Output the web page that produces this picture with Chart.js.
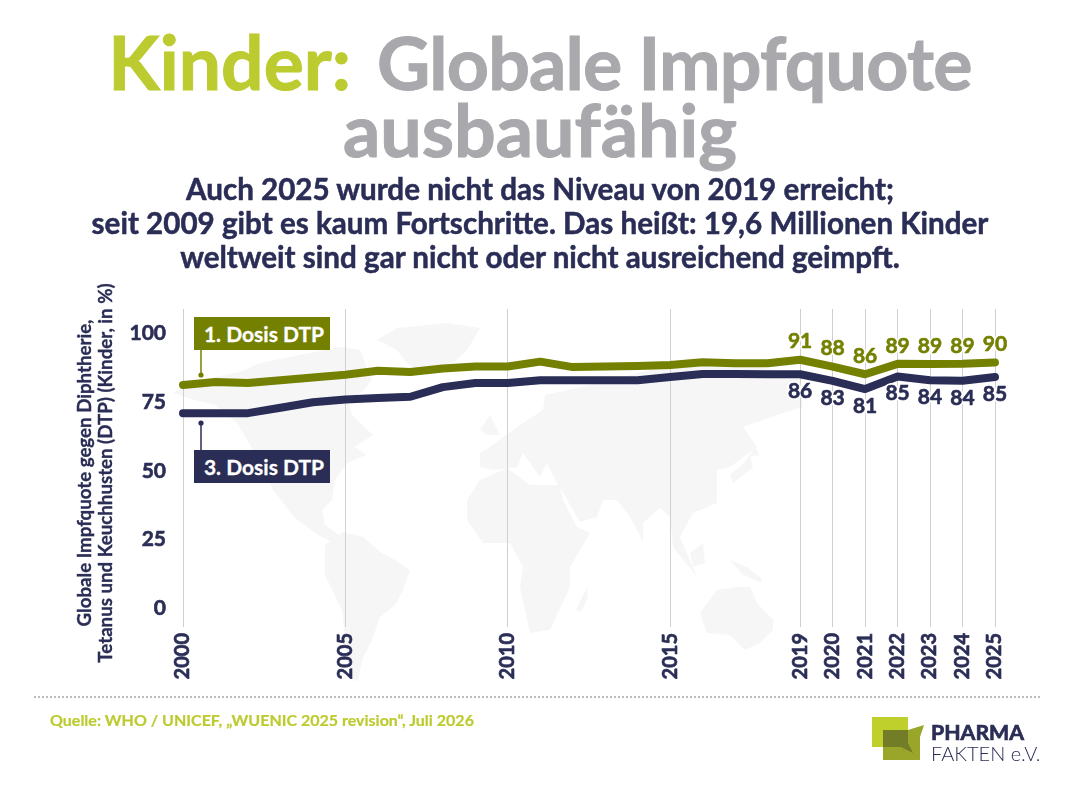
<!DOCTYPE html>
<html lang="de">
<head>
    <meta charset="UTF-8">
    <title>Kinder: Globale Impfquote ausbaufähig</title>
    <script src="https://cdn.jsdelivr.net/npm/chart.js"></script>
    <style>
        body {
            margin: 0;
            background: #fff;
            font-family: Lato, sans-serif;
            font-weight: 700;
        }
        .page {
            position: relative;
            width: 1080px;
            height: 793px;
            overflow: hidden;
        }
        .page > * {
            position: absolute;
        }
        .map {
            left: 0;
            top: 0;
        }
        canvas {
            left: 0;
            top: 0;
        }
        .title {
            left: 0;
            width: 1080px;
            top: 28px;
            text-align: center;
            font-size: 73.5px;
            line-height: 67px;
            color: #a9a9ad;
            -webkit-text-stroke: 1px #a9a9ad;
        }
        .title .tight {
            letter-spacing: -0.8px;
        }
        .title .lead {
            font-size: 75px;
            margin-right: 8px;
            color: #bccb2f;
            -webkit-text-stroke: 1px #bccb2f;
        }
        .subtitle {
            left: 0;
            width: 1080px;
            top: 172px;
            text-align: center;
            font-size: 29.6px;
            line-height: 34px;
            color: #2a2d55;
            -webkit-text-stroke: 0.5px #2a2d55;
        }
        .tag {
            left: 194px;
            width: 132px;
            padding-left: 4px;
            height: 33px;
            line-height: 33px;
            text-align: center;
            color: #fff;
            font-size: 21px;
            -webkit-text-stroke: 0.3px #fff;
        }
        .axis-title {
            left: 94.5px;
            top: 473px;
            width: 400px;
            margin-left: -200px;
            transform: translateY(-50%) rotate(-90deg);
            text-align: center;
            white-space: nowrap;
            font-size: 18.7px;
            line-height: 21px;
            color: #2a2d55;
            -webkit-text-stroke: 0.3px #2a2d55;
        }
        .source {
            left: 50px;
            top: 710px;
            font-size: 16px;
            color: #bccb2f;
            -webkit-text-stroke: 0.2px #bccb2f;
        }
        .rule {
            left: 34px;
            top: 696px;
            width: 1006px;
            border-top: 2px dotted #bbb;
        }
        .brand1 {
            left: 931px;
            top: 719px;
            font-size: 21.3px;
            color: #2a2d55;
            -webkit-text-stroke: 0.7px #2a2d55;
        }
        .brand2 {
            left: 931px;
            top: 741px;
            font-size: 20px;
            font-weight: 300;
            color: #2a2d55;
        }
    </style>
</head>
<body>
<div class="page">
    <!-- world map behind the chart -->
    <svg class="map" width="1080" height="793" fill="#f6f6f6">
        <polygon points="377,340 397,328 447,323 480,328 467,350 453,363 417,370 407,363 397,350"/>
        <polygon points="173,393 200,380 240,372 260,363 300,355 340,347 360,350 372,380 362,392 348,400 352,415 373,435 355,447 366,455 347,463 335,480 332,500 322,510 325,525 343,538 338,545 318,535 295,518 273,490 262,465 237,423 215,405 195,400"/>
        <polygon points="325,545 343,532 363,537 380,552 395,560 410,570 403,590 395,605 380,617 372,640 362,660 358,682 350,675 345,640 342,610 325,575"/>
        <polygon points="467,500 480,480 507,468 530,485 560,485 563,500 577,527 590,533 570,567 570,587 550,630 530,633 520,587 523,567 510,543 483,543 467,520"/>
        <polygon points="587,587 576,610 581,612 588,597"/>
        <polygon points="480,453 490,447 517,427 543,410 545,395 590,385 650,370 690,358 750,365 800,375 803,407 783,413 743,427 757,447 730,467 717,470 717,503 693,513 680,537 697,577 673,547 670,517 660,508 643,523 643,542 630,517 617,500 603,500 597,517 580,522 570,505 563,492 557,483 547,463 540,477 523,453 517,467 493,470 480,467"/>
        <polygon points="480,430 490,415 500,435 487,435"/>
        <polygon points="733,483 753,467 750,457 760,455 755,447 745,462 730,475"/>
        <polygon points="690,553 703,543 705,563 693,567"/>
        <polygon points="730,560 747,567 760,577 762,583 743,575"/>
        <polygon points="700,613 717,590 737,587 750,587 757,603 773,620 773,630 760,643 745,650 730,635 707,633"/>
    </svg>

    <canvas id="chart" width="1080" height="793"></canvas>

    <div class="title"><span class="lead">Kinder:</span> <span class="tight">Globale Impfquote</span><br>ausbaufähig</div>
    <div class="subtitle">Auch 2025 wurde nicht das Niveau von 2019 erreicht;<br>seit 2009 gibt es kaum Fortschritte. Das heißt: 19,6 Millionen Kinder<br>weltweit sind gar nicht oder nicht ausreichend geimpft.</div>

    <div class="axis-title">Globale Impfquote gegen Diphtherie,<br>Tetanus und Keuchhusten (DTP) (Kinder, in %)</div>

    <div class="tag" style="top:317px;background:#748000">1. Dosis DTP</div>
    <div class="tag" style="top:450px;background:#2a2d55">3. Dosis DTP</div>

    <div class="rule"></div>
    <div class="source">Quelle: WHO / UNICEF, „WUENIC 2025 revision“, Juli 2026</div>

    <!-- logo -->
    <svg style="left:0;top:0" width="1080" height="793">
        <rect x="872" y="717" width="36" height="30" fill="#bfcf2c"/>
        <path d="M883 730 H908 L924 725 L920 737 V760 H883 Z" fill="#9aa62a"/>
        <path d="M883 730 H908 V743 L913 753 L901 747 H883 Z" fill="#737c27"/>
    </svg>
    <div class="brand1">PHARMA</div>
    <div class="brand2">FAKTEN e.V.</div>
</div>

<script>
    const years = [2000, 2001, 2002, 2003, 2004, 2005, 2006, 2007, 2008, 2009, 2010, 2011, 2012,
                   2013, 2014, 2015, 2016, 2017, 2018, 2019, 2020, 2021, 2022, 2023, 2024, 2025];
    const dose1 = [81.3, 82.4, 82, 83, 84, 85, 86.5, 86, 87.3, 88, 88, 89.8, 87.8,
                   88, 88.2, 88.6, 89.6, 89.2, 89.2, 90.5, 88, 85.2, 89, 88.9, 89, 89.5];
    const dose3 = [71, 71, 71, 73, 75, 76, 76.5, 77, 80.5, 82, 82, 83, 83,
                   83, 83, 84.2, 85.3, 85.3, 85.2, 85.2, 82.8, 79.8, 84.4, 83, 82.8, 84.2];

    const labelYears = [2019, 2020, 2021, 2022, 2023, 2024, 2025];
    const labelsDose1 = ['91', '88', '86', '89', '89', '89', '90'];
    const labelsDose3 = ['86', '83', '81', '85', '84', '84', '85'];

    const xTicks = [2000, 2005, 2010, 2015, 2019, 2020, 2021, 2022, 2023, 2024, 2025];
    const yTicks = [0, 25, 50, 75, 100];

    const navy = '#2a2d55';
    const olive = '#748000';

    // value labels with a white halo, plus the little leader lines of the two tags
    function haloText(ctx, text, x, y, color) {
        ctx.lineWidth = 4;
        ctx.strokeStyle = '#fff';
        ctx.strokeText(text, x, y);
        ctx.fillStyle = color;
        ctx.fillText(text, x, y);
        ctx.lineWidth = 0.6;
        ctx.strokeStyle = color;
        ctx.strokeText(text, x, y);
    }

    const annotations = {
        id: 'annotations',
        afterDatasetsDraw(chart) {
            const { ctx, scales: { x, y } } = chart;
            ctx.save();
            ctx.font = '700 21px Lato';
            ctx.textAlign = 'center';
            ctx.textBaseline = 'middle';
            ctx.lineJoin = 'round';
            labelYears.forEach((year, i) => {
                const idx = years.indexOf(year);
                const px = x.getPixelForValue(year);
                haloText(ctx, labelsDose1[i], px, y.getPixelForValue(dose1[idx]) - 18, olive);
                haloText(ctx, labelsDose3[i], px, y.getPixelForValue(dose3[idx]) + 17, navy);
            });
            [[olive, 345, 375], [navy, 450, 423]].forEach(([color, from, to]) => {
                ctx.strokeStyle = color;
                ctx.fillStyle = color;
                ctx.lineWidth = 1.5;
                ctx.beginPath();
                ctx.moveTo(201, from);
                ctx.lineTo(201, to);
                ctx.stroke();
                ctx.beginPath();
                ctx.arc(201, to, 2.6, 0, Math.PI * 2);
                ctx.fill();
            });
            ctx.restore();
        }
    };

    new Chart(document.getElementById('chart'), {
        type: 'line',
        data: {
            labels: years,
            datasets: [
                {
                    label: '1. Dosis DTP',
                    data: years.map((year, i) => ({ x: year, y: dose1[i] })),
                    borderColor: olive
                },
                {
                    label: '3. Dosis DTP',
                    data: years.map((year, i) => ({ x: year, y: dose3[i] })),
                    borderColor: navy
                }
            ]
        },
        options: {
            responsive: false,
            animation: false,
            devicePixelRatio: 1,
            layout: {
                autoPadding: false,
                padding: { left: 73, right: 85, top: 309, bottom: 106 }
            },
            elements: {
                line: { borderWidth: 8, borderCapStyle: 'round', borderJoinStyle: 'round', tension: 0 },
                point: { radius: 0 }
            },
            datasets: { line: { clip: false } },
            plugins: {
                legend: { display: false },
                tooltip: { enabled: false }
            },
            scales: {
                x: {
                    type: 'linear',
                    min: 2000,
                    max: 2025,
                    afterBuildTicks: scale => { scale.ticks = xTicks.map(value => ({ value })); },
                    afterFit: scale => { scale.height = 60; },
                    grid: { color: '#d0d0d0', lineWidth: 1, drawTicks: false },
                    border: { display: false },
                    ticks: {
                        callback: value => String(value),
                        autoSkip: false,
                        minRotation: 90,
                        maxRotation: 90,
                        padding: 6,
                        color: navy,
                        textStrokeColor: navy,
                        textStrokeWidth: 0.6,
                        font: { family: 'Lato', size: 20, weight: 700 }
                    }
                },
                y: {
                    min: -7,
                    max: 109,
                    afterBuildTicks: scale => { scale.ticks = yTicks.map(value => ({ value })); },
                    afterFit: scale => { scale.width = 110; },
                    grid: { display: false },
                    border: { display: false },
                    ticks: {
                        padding: 9,
                        color: navy,
                        textStrokeColor: navy,
                        textStrokeWidth: 0.6,
                        font: { family: 'Lato', size: 21, weight: 700 }
                    }
                }
            }
        },
        plugins: [annotations]
    });
</script>
</body>
</html>
